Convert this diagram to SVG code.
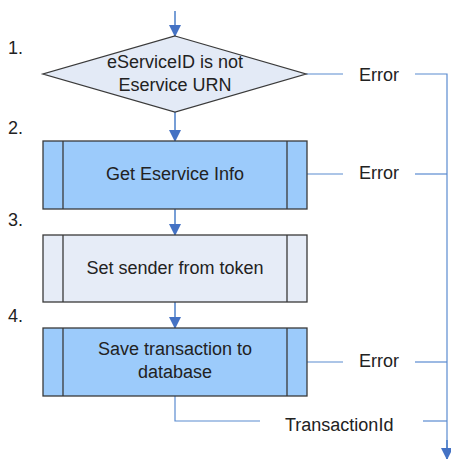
<svg xmlns="http://www.w3.org/2000/svg" width="451" height="459" viewBox="0 0 451 459">
<style>
text{font-family:"Liberation Sans",Arial,sans-serif;font-size:18px;fill:#222}
.c{text-anchor:middle}
.box{stroke:#3a3a3a;stroke-width:1.3}
.div{stroke:#3a3a3a;stroke-width:1.3}
.flow{stroke:#4A7EC8;stroke-width:1.5;fill:none}
.err{stroke:#5B8BD0;stroke-width:1.2;fill:none}
</style>
<defs>
<marker id="ah" markerWidth="12" markerHeight="12" refX="11" refY="6" orient="auto" markerUnits="userSpaceOnUse">
<path d="M0,0 L12,6 L0,12 Z" fill="#4472C4"/>
</marker>
</defs>
<g id="labels">
<text x="8" y="54">1.</text>
<text x="8" y="134">2.</text>
<text x="8" y="226">3.</text>
<text x="8" y="322">4.</text>
</g>
<g id="connectors">
<line class="flow" x1="175" y1="11" x2="175" y2="36" marker-end="url(#ah)"/>
<line class="flow" x1="175" y1="112" x2="175" y2="141" marker-end="url(#ah)"/>
<line class="flow" x1="175" y1="209" x2="175" y2="235" marker-end="url(#ah)"/>
<line class="flow" x1="175" y1="302" x2="175" y2="328" marker-end="url(#ah)"/>
<polyline class="err" points="306,74 343,74"/>
<polyline class="err" points="415,74 447,74 447,459"/>
<line class="flow" x1="447" y1="440" x2="447" y2="459" marker-end="url(#ah)"/>
<polyline class="err" points="307,174 343,174"/>
<polyline class="err" points="415,174 447,174"/>
<polyline class="err" points="307,362 343,362"/>
<polyline class="err" points="415,362 447,362"/>
<polyline class="err" points="175,396 175,421 260,421"/>
<polyline class="err" points="423,421 447,421"/>
<text x="359" y="81">Error</text>
<text x="359" y="179">Error</text>
<text x="359" y="367">Error</text>
<text x="285" y="431">TransactionId</text>
</g>
<g id="n1">
<polygon class="box" points="175,36 306,74 175,112 43,74" fill="#E3EAF6"/>
<text class="c" x="175" y="68">eServiceID is not</text>
<text class="c" x="175" y="91">Eservice URN</text>
</g>
<g id="n2">
<rect class="box" x="43" y="141" width="264" height="68" fill="#9CCBFB"/>
<line class="div" x1="63" y1="141" x2="63" y2="209"/>
<line class="div" x1="287" y1="141" x2="287" y2="209"/>
<text class="c" x="175" y="180">Get Eservice Info</text>
</g>
<g id="n3">
<rect class="box" x="43" y="235" width="264" height="67" fill="#E6ECF7"/>
<line class="div" x1="63" y1="235" x2="63" y2="302"/>
<line class="div" x1="287" y1="235" x2="287" y2="302"/>
<text class="c" x="175" y="274">Set sender from token</text>
</g>
<g id="n4">
<rect class="box" x="43" y="328" width="264" height="68" fill="#9CCBFB"/>
<line class="div" x1="63" y1="328" x2="63" y2="396"/>
<line class="div" x1="287" y1="328" x2="287" y2="396"/>
<text class="c" x="175" y="355">Save transaction to</text>
<text class="c" x="175" y="378">database</text>
</g>
</svg>
